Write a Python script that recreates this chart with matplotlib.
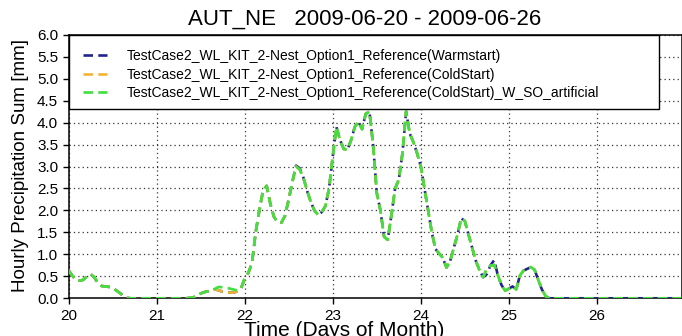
import numpy as np
import matplotlib
matplotlib.use("Agg")
import matplotlib.pyplot as plt
from matplotlib.patches import Rectangle

plt.rcParams['font.family'] = ['Liberation Sans', 'DejaVu Sans']

# Hourly precipitation sums, 2009-06-20 00:00 .. 2009-06-26 23:00
coldstart = [
    # day 20
    0.64, 0.52, 0.42, 0.40, 0.42, 0.50, 0.55, 0.48, 0.35, 0.28, 0.27, 0.26,
    0.24, 0.18, 0.12, 0.05, 0.01, 0.00, 0.00, 0.00, 0.00, 0.00, 0.00, 0.00,
    # day 21
    0.00, 0.00, 0.00, 0.00, 0.00, 0.00, 0.00, 0.00, 0.00, 0.01, 0.02, 0.06,
    0.11, 0.14, 0.16, 0.18, 0.20, 0.18, 0.15, 0.13, 0.13, 0.13, 0.16, 0.22,
    # day 22
    0.45, 0.58, 0.80, 1.50, 2.00, 2.45, 2.56, 2.15, 1.85, 1.73, 1.72, 1.88,
    2.25, 2.65, 3.00, 2.93, 2.75, 2.45, 2.20, 2.00, 1.90, 1.96, 2.10, 2.50,
    # day 23
    3.22, 3.90, 3.60, 3.40, 3.38, 3.60, 3.90, 4.02, 3.85, 4.20, 4.25, 3.50,
    2.40, 2.00, 1.40, 1.33, 1.90, 2.50, 2.70, 3.30, 4.25, 3.75, 3.55, 3.30,
    # day 24
    3.00, 2.50, 2.00, 1.50, 1.12, 1.02, 0.92, 0.70, 0.85, 1.15, 1.45, 1.82,
    1.76, 1.45, 1.15, 0.85, 0.64, 0.48, 0.68, 0.74, 0.76, 0.52, 0.30, 0.17,
    # day 25
    0.22, 0.27, 0.20, 0.52, 0.63, 0.67, 0.71, 0.65, 0.42, 0.20, 0.05, 0.00,
    0.00, 0.00, 0.00, 0.00, 0.00, 0.00, 0.00, 0.00, 0.00, 0.00, 0.00, 0.00,
    # day 26
    0.00, 0.00, 0.00, 0.00, 0.00, 0.00, 0.00, 0.00, 0.00, 0.00, 0.00, 0.00,
    0.00, 0.00, 0.00, 0.00, 0.00, 0.00, 0.00, 0.00, 0.00, 0.00, 0.00, 0.00,
]

# Warm start run: differs from the cold start only at a few hours
warmstart = list(coldstart)
warmstart[62:64] = [3.02, 2.96]              # day 22, 14-15 h
warmstart[114:117] = [0.55, 0.75, 0.87]      # day 24, 18-20 h

# Cold start with artificial soil moisture: slightly wetter late on day 21
artificial = list(coldstart)
artificial[40:48] = [0.22, 0.26, 0.25, 0.24, 0.22, 0.20, 0.18, 0.22]

hours = np.arange(len(coldstart))
days = 20 + hours / 24.0

labels = [
    "TestCase2_WL_KIT_2-Nest_Option1_Reference(Warmstart)",
    "TestCase2_WL_KIT_2-Nest_Option1_Reference(ColdStart)",
    "TestCase2_WL_KIT_2-Nest_Option1_Reference(ColdStart)_W_SO_artificial",
]
colors = ["#23238e", "#f2b434", "#3fe03f"]
series = [warmstart, coldstart, artificial]

x_ticks = [20, 21, 22, 23, 24, 25, 26]
y_ticks = np.arange(0, 6.01, 0.5)

fig = plt.figure(figsize=(6.82, 3.36), dpi=100)
ax = fig.add_axes([68.5 / 682, 1 - 298.3 / 336, (681.5 - 68.5) / 682, (298.3 - 34.7) / 336])

lines = []
for vals, col, lab in zip(series, colors, labels):
    ln, = ax.plot(days, vals, color=col, lw=1.9, dashes=(3.6, 2.0), label=lab, zorder=3)
    lines.append(ln)

ax.set_xlim(20, 26.96)
ax.set_ylim(0, 6)
ax.set_xticks(x_ticks)
ax.set_xticklabels([str(t) for t in x_ticks])
ax.set_yticks(y_ticks)
ax.set_yticklabels([f"{v:.1f}" for v in y_ticks])
ax.tick_params(direction='out', length=4.5, width=1.0, labelsize=11, pad=3)
ax.grid(True, linestyle=(0, (1, 2.5)), color='#333333', linewidth=0.9)
for sp in ax.spines.values():
    sp.set_linewidth(1.1)

# legend frame drawn as a patch so the box can be wider than the entries
legend_box = Rectangle((0, 4.31 / 6), (659 - 68.5) / (681.5 - 68.5), 1 - 4.31 / 6,
                       transform=ax.transAxes, facecolor='white', edgecolor='black',
                       linewidth=1.0, zorder=4, clip_on=False)
ax.add_patch(legend_box)
leg = ax.legend(handles=lines, labels=labels, loc='upper left',
                bbox_to_anchor=(83 / 682, 1 - 49 / 336), bbox_transform=fig.transFigure,
                frameon=False, borderpad=0, borderaxespad=0, handlelength=1.75,
                handletextpad=1.4, labelspacing=0.33, fontsize=10)
leg.set_zorder(5)

fig.text(365 / 682, 1 - 19 / 336, "AUT_NE   2009-06-20 - 2009-06-26",
         ha='center', va='center', fontsize=16)
fig.text(344 / 682, 1 - 330 / 336, "Time (Days of Month)", ha='center', va='center',
         fontsize=15)
fig.text(21 / 682, 1 - 165 / 336, "Hourly Precipitation Sum [mm]", ha='center', va='center',
         rotation=90, fontsize=13.5)

fig.savefig("out.png", dpi=100)
